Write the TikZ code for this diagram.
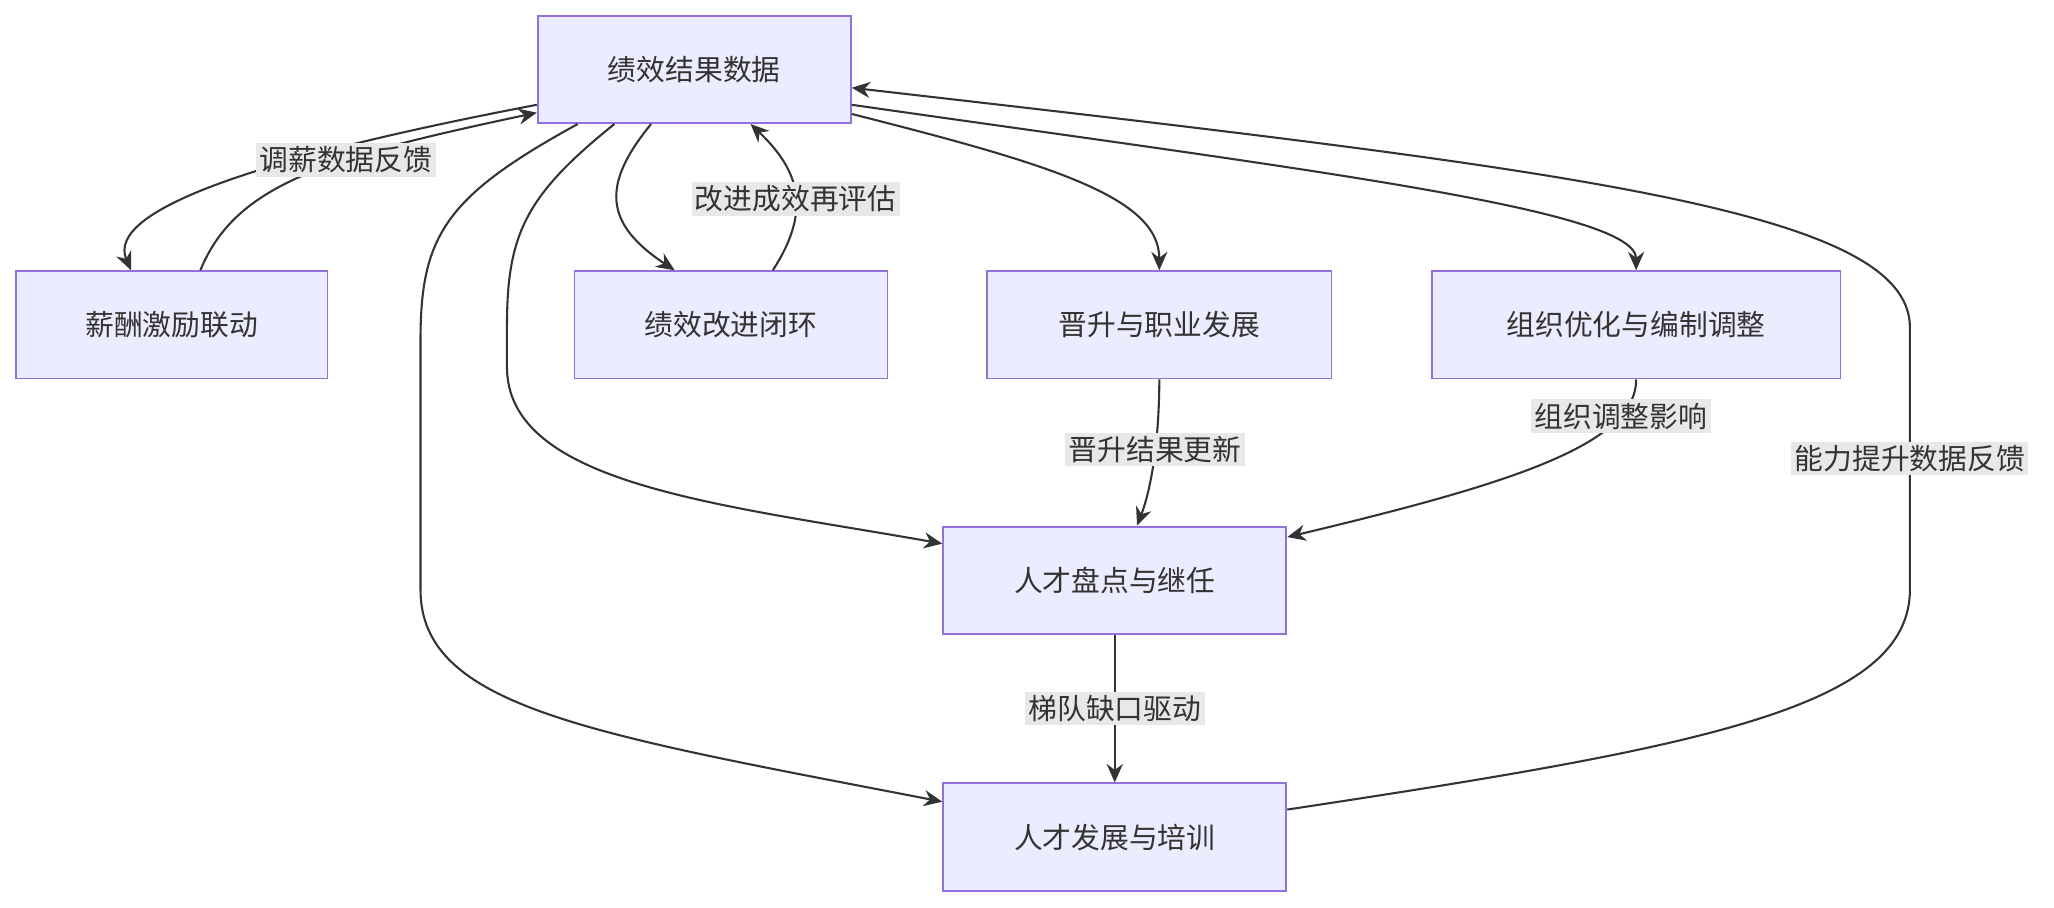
\documentclass[tikz,border=0pt]{standalone}
\usepackage{fontspec}
\setmainfont{Noto Sans CJK SC}
\usetikzlibrary{arrows.meta}
\definecolor{boxfill}{HTML}{ECECFF}
\definecolor{boxline}{HTML}{9370DB}
\definecolor{lblfill}{HTML}{E8E8E8}
\definecolor{linec}{HTML}{333333}
\tikzset{
  box/.style={rectangle,draw=boxline,fill=boxfill,line width=0.8pt,minimum height=1.64cm,font=\fontsize{12.5}{15}\selectfont,text=linec},
  lbl/.style={fill=lblfill,inner sep=1.5pt,font=\fontsize{12.5}{15}\selectfont,text=linec},
  conn/.style={draw=linec,line width=0.9pt,-{Stealth[length=8pt,width=7pt]}}
}
\begin{document}
\begin{tikzpicture}[x=0.02cm,y=-0.02cm]
  \useasboundingbox (0,0) rectangle (1568,693);
  %NODE
  \node[box,minimum width=4.78cm] (A) at (530,53) {绩效结果数据};
  \node[box,minimum width=4.76cm] (B) at (131,248) {薪酬激励联动};
  \node[box,minimum width=4.78cm] (C) at (558,248) {绩效改进闭环};
  \node[box,minimum width=5.26cm] (D) at (885,248) {晋升与职业发展};
  \node[box,minimum width=6.24cm] (E) at (1249,248) {组织优化与编制调整};
  \node[box,minimum width=5.24cm] (F) at (851,443) {人才盘点与继任};
  \node[box,minimum width=5.24cm] (G) at (851,639) {人才发展与培训};

  %EDGE
  \draw[conn] ([yshift=-0.54cm]A.west) .. controls (200,120) and (80,160) .. ([xshift=-0.62cm]B.north);
  \draw[conn] ([xshift=0.44cm]B.north) .. controls (180,140) and (250,120) .. node[lbl,pos=0.62] {调薪数据反馈} ([yshift=-0.66cm]A.west);
  \draw[conn] ([xshift=-0.66cm]A.south) .. controls (460,140) and (460,170) .. ([xshift=-0.86cm]C.north);
  \draw[conn] ([xshift=0.64cm]C.north) .. controls (620,160) and (610,130) .. node[lbl,pos=0.45] {改进成效再评估} ([xshift=0.86cm]A.south);
  \draw[conn] ([yshift=-0.68cm]A.east) .. controls (800,125) and (885,150) .. (D.north);
  \draw[conn] ([yshift=-0.54cm]A.east) .. controls (1000,130) and (1249,160) .. (E.north);
  \draw[conn] (D.south) .. controls (885,330) and (880,370) .. node[lbl,pos=0.45] {晋升结果更新} ([xshift=0.34cm]F.north);
  \draw[conn] (E.south) .. controls (1249,340) and (1150,370) .. node[lbl,pos=0.2] {组织调整影响} ([yshift=0.66cm]F.east);
  \draw[conn] ([xshift=-1.22cm]A.south) .. controls (400,150) and (387,180) .. (387,250) -- (387,280) .. controls (387,370) and (550,385) .. ([yshift=0.56cm]F.west);
  \draw[conn] ([xshift=-1.78cm]A.south) .. controls (340,150) and (321,180) .. (321,260) -- (321,450) .. controls (321,540) and (450,560) .. ([yshift=0.54cm]G.west);
  \draw[conn] ([yshift=0.42cm]G.east) .. controls (1300,570) and (1458,540) .. (1458,450) -- node[lbl] {能力提升数据反馈} (1458,250) .. controls (1458,160) and (1200,130) .. ([yshift=-0.28cm]A.east);
  \draw[conn] (F.south) -- node[lbl] {梯队缺口驱动} (G.north);
\end{tikzpicture}
\end{document}
